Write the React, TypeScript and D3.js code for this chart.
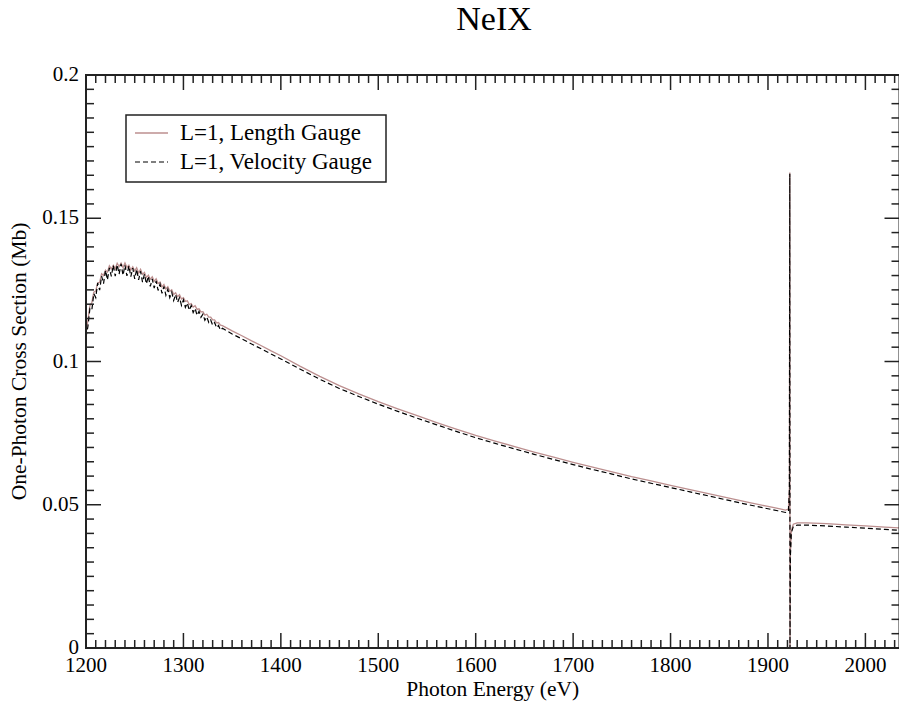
import React from "react";
import * as d3 from "d3";

// Photon energies (eV) and cross sections (Mb), near threshold sampled every 2 eV
const energyNear = [
  1200, 1202, 1204, 1206, 1208, 1210, 1212, 1214, 1216, 1218, 1220, 1222, 1224, 1226, 1228, 1230,
  1232, 1234, 1236, 1238, 1240, 1242, 1244, 1246, 1248, 1250, 1252, 1254, 1256, 1258, 1260, 1262,
  1264, 1266, 1268, 1270, 1272, 1274, 1276, 1278, 1280, 1282, 1284, 1286, 1288, 1290, 1292, 1294,
  1296, 1298, 1300, 1302, 1304, 1306, 1308, 1310, 1312, 1314, 1316, 1318, 1320, 1322, 1324, 1326,
  1328, 1330, 1332, 1334, 1336, 1338, 1340,
];
const lengthNear = [
  0.11, 0.1144, 0.1195, 0.1206, 0.1242, 0.1246, 0.1275, 0.1276, 0.1306, 0.13, 0.1319, 0.1312, 0.1334,
  0.1323, 0.1336, 0.1324, 0.1343, 0.1331, 0.1343, 0.1328, 0.1344, 0.1328, 0.1336, 0.1319, 0.133,
  0.1316, 0.1327, 0.1309, 0.1322, 0.1304, 0.1311, 0.1293, 0.1301, 0.1287, 0.1296, 0.128, 0.1289,
  0.1272, 0.1277, 0.126, 0.1269, 0.1253, 0.1261, 0.1245, 0.125, 0.1234, 0.124, 0.1226, 0.1233,
  0.1218, 0.1223, 0.121, 0.1212, 0.1199, 0.1202, 0.119, 0.1195, 0.1182, 0.1184, 0.1173, 0.1174,
  0.1162, 0.1165, 0.1155, 0.1155, 0.1145, 0.1145, 0.1135, 0.1136, 0.1127, 0.1125,
];
const velocityNear = [
  0.1085, 0.1123, 0.1185, 0.118, 0.1237, 0.1223, 0.1274, 0.1249, 0.1298, 0.1272, 0.1318, 0.1285,
  0.1327, 0.1297, 0.1336, 0.1298, 0.1338, 0.1305, 0.1341, 0.1301, 0.1336, 0.1299, 0.1334, 0.1296,
  0.1326, 0.1288, 0.1322, 0.1285, 0.1315, 0.1277, 0.1305, 0.1271, 0.1298, 0.1262, 0.1288, 0.1256,
  0.1281, 0.1248, 0.127, 0.1238, 0.1262, 0.1231, 0.1252, 0.1223, 0.1242, 0.1213, 0.1234, 0.1206,
  0.1223, 0.1196, 0.1215, 0.1189, 0.1204, 0.1179, 0.1195, 0.1171, 0.1185, 0.1161, 0.1175, 0.1154,
  0.1165, 0.1144, 0.1156, 0.1136, 0.1145, 0.1127, 0.1136, 0.1118, 0.1126, 0.111, 0.1116,
];

// Higher energies, including the resonance near 1922 eV
const energyFar = [
  1350, 1360, 1370, 1380, 1390, 1400, 1420, 1440, 1460, 1480, 1500, 1520, 1540, 1560, 1580, 1600,
  1620, 1640, 1660, 1680, 1700, 1720, 1740, 1760, 1780, 1800, 1820, 1840, 1860, 1880, 1900, 1910,
  1918, 1921, 1922, 1922.4, 1922.6, 1923, 1924, 1926, 1930, 1940, 1960, 1980, 2000, 2020, 2040,
];
const lengthFar = [
  0.1107, 0.109, 0.1072, 0.1055, 0.1037, 0.102, 0.0983, 0.0948, 0.0916, 0.0887, 0.086, 0.0835,
  0.0811, 0.0787, 0.0764, 0.0742, 0.0722, 0.0703, 0.0684, 0.0666, 0.0648, 0.0631, 0.0615, 0.0598,
  0.0583, 0.0568, 0.0553, 0.0538, 0.0523, 0.0508, 0.0494, 0.0487, 0.0481, 0.0485, 0.056, 0.166, 0.0,
  0.033, 0.041, 0.0432, 0.0437, 0.0437, 0.0434, 0.043, 0.0426, 0.0422, 0.0418,
];
const velocityFar = [
  0.1096, 0.1079, 0.1061, 0.1044, 0.1026, 0.1009, 0.0973, 0.0938, 0.0906, 0.0878, 0.0851, 0.0826,
  0.0802, 0.0779, 0.0756, 0.0734, 0.0714, 0.0695, 0.0676, 0.0658, 0.064, 0.0623, 0.0607, 0.059,
  0.0575, 0.056, 0.0545, 0.053, 0.0515, 0.05, 0.0486, 0.0479, 0.0473, 0.0477, 0.055, 0.1655, 0.0,
  0.032, 0.0402, 0.0424, 0.0429, 0.0429, 0.0426, 0.0422, 0.0418, 0.0414, 0.041,
];

const xTickLabels = [1200, 1300, 1400, 1500, 1600, 1700, 1800, 1900, 2000];
const yTickLabels = [0, 0.05, 0.1, 0.15, 0.2];
const seriesNames = ["L=1, Length Gauge", "L=1, Velocity Gauge"];

const W = 899;
const H = 704;
const left = 86;
const top = 75;
const bottom = 648;
const xMax = 2035;
const serif = { fontFamily: "'Liberation Serif', 'Times New Roman', Times, serif" };

export default function App() {
  const x = d3.scaleLinear().domain([1200, xMax]).range([left, 899.5]);
  const y = d3.scaleLinear().domain([0, 0.2]).range([bottom, top]);
  const right = x(xMax);

  const energy = [...energyNear, ...energyFar];
  const lengthVals = [...lengthNear, ...lengthFar];
  const velocityVals = [...velocityNear, ...velocityFar];

  const line = d3
    .line<number>()
    .x((_, i) => x(energy[i]))
    .y((d) => y(d));

  const xMinor = d3.range(1200, xMax + 0.001, 10);
  const yMinor = d3.range(0, 0.2001, 0.005);
  const isMajorX = (v: number) => Math.abs(v % 100) < 1e-6;
  const isMajorY = (v: number) => Math.abs(Math.round(v / 0.005) % 10) === 0;

  const majorLen = 15;
  const minorLen = 8;
  const tickColor = "#222";

  return (
    <svg
      width={W}
      height={H}
      style={{ position: "absolute", left: 0, top: 0, background: "#fff" }}
    >
      <rect x={0} y={0} width={W} height={H} fill="#fff" />
      <defs>
        <clipPath id="plotClip">
          <rect x={left} y={top} width={right - left} height={bottom - top} />
        </clipPath>
      </defs>

      <text x={494} y={30} textAnchor="middle" fontSize={34} fill="#000" style={serif}>
        NeIX
      </text>

      {/* data curves */}
      <g clipPath="url(#plotClip)">
        <path d={line(lengthVals) || ""} fill="none" stroke="#bc8f8f" strokeWidth={1.3} />
        <path
          d={line(velocityVals) || ""}
          fill="none"
          stroke="#000"
          strokeWidth={1.2}
          strokeDasharray="5,3"
        />
      </g>

      {/* ticks on all four sides, pointing inward */}
      <g stroke={tickColor} strokeWidth={1.5}>
        {xMinor.map((v) => {
          const len = isMajorX(v) ? majorLen : minorLen;
          const px = x(v);
          return (
            <g key={"xt" + v}>
              <line x1={px} x2={px} y1={bottom} y2={bottom - len} />
              <line x1={px} x2={px} y1={top} y2={top + len} />
            </g>
          );
        })}
        {yMinor.map((v) => {
          const len = isMajorY(v) ? majorLen : minorLen;
          const py = y(v);
          return (
            <g key={"yt" + v.toFixed(3)}>
              <line x1={left} x2={left + len} y1={py} y2={py} />
              <line x1={right} x2={right - len} y1={py} y2={py} />
            </g>
          );
        })}
      </g>

      <rect
        x={left}
        y={top}
        width={right - left}
        height={bottom - top}
        fill="none"
        stroke={tickColor}
        strokeWidth={2}
      />

      {/* tick labels */}
      {xTickLabels.map((v) => (
        <text
          key={"xl" + v}
          x={x(v)}
          y={bottom + 24}
          textAnchor="middle"
          fontSize={21}
          fill="#000"
          style={serif}
        >
          {v}
        </text>
      ))}
      {yTickLabels.map((v) => (
        <text
          key={"yl" + v}
          x={left - 7}
          y={y(v) + 6}
          textAnchor="end"
          fontSize={21}
          fill="#000"
          style={serif}
        >
          {String(v)}
        </text>
      ))}

      {/* axis titles */}
      <text
        x={(left + right) / 2}
        y={696}
        textAnchor="middle"
        fontSize={21.5}
        fill="#000"
        style={serif}
      >
        Photon Energy (eV)
      </text>
      <text
        transform={`translate(26, ${(top + bottom) / 2}) rotate(-90)`}
        textAnchor="middle"
        fontSize={21.5}
        fill="#000"
        style={serif}
      >
        One-Photon Cross Section (Mb)
      </text>

      {/* legend */}
      <g>
        <rect x={126} y={115} width={260} height={67} fill="#fff" stroke={tickColor} strokeWidth={1.5} />
        <line x1={135} x2={168} y1={133} y2={133} stroke="#bc8f8f" strokeWidth={1.3} />
        <line x1={135} x2={168} y1={162} y2={162} stroke="#000" strokeWidth={1.2} strokeDasharray="5,3" />
        <text x={180} y={140} fontSize={23} fill="#000" style={serif}>
          {seriesNames[0]}
        </text>
        <text x={180} y={169} fontSize={23} fill="#000" style={serif}>
          {seriesNames[1]}
        </text>
      </g>
    </svg>
  );
}
